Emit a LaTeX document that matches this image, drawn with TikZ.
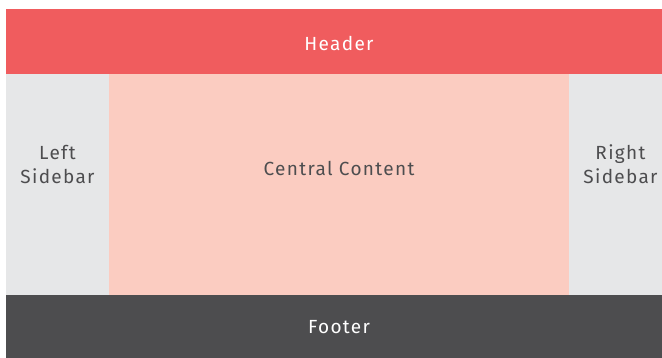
\documentclass[tikz,border=0pt]{standalone}
\usepackage{fontspec}
\setmainfont[LetterSpace=7]{Fira Sans}
\usepackage{tikz}
\usetikzlibrary{positioning}

\definecolor{headred}{RGB}{240,92,94}
\definecolor{contentpink}{RGB}{251,204,193}
\definecolor{sidegray}{RGB}{230,231,232}
\definecolor{footgray}{RGB}{77,77,79}
\definecolor{textgray}{RGB}{77,77,79}

\begin{document}
\begin{tikzpicture}[x=1pt,y=-1pt,
      region/.style={rectangle, inner sep=0pt, outer sep=0pt, draw=none},
      lbl/.style={inner sep=0pt, font=\fontsize{19}{24}\selectfont, align=center, anchor=base},
      dark/.style={lbl, text=textgray},
      light/.style={lbl, text=white}]
      \useasboundingbox (0,0) rectangle (662,358);
      \node[name=header, region, fill=headred, minimum width=656pt, minimum height=65pt, anchor=north west] at (6,9){};
      \node[name=left, region, fill=sidegray, minimum width=103pt, minimum height=221pt, anchor=north west] at (6,74){};
      \node[name=content, region, fill=contentpink, minimum width=460pt, minimum height=221pt, anchor=north west] at (109,74){};
      \node[name=right, region, fill=sidegray, minimum width=93pt, minimum height=221pt, anchor=north west] at (569,74){};
      \node[name=footer, region, fill=footgray, minimum width=656pt, minimum height=63pt, anchor=north west] at (6,295){};
      \node[name=headtxt, light] at (339,51){Header};
      \node[name=lefttxt, dark] at (57.5,184){Left\\Sidebar};
      \node[name=contenttxt, dark] at (339,176){Central Content};
      \node[name=righttxt, dark] at (620.5,184){Right\\Sidebar};
      \node[name=foottxt, light] at (339,334){Footer};
   \end{tikzpicture}
\end{document}
